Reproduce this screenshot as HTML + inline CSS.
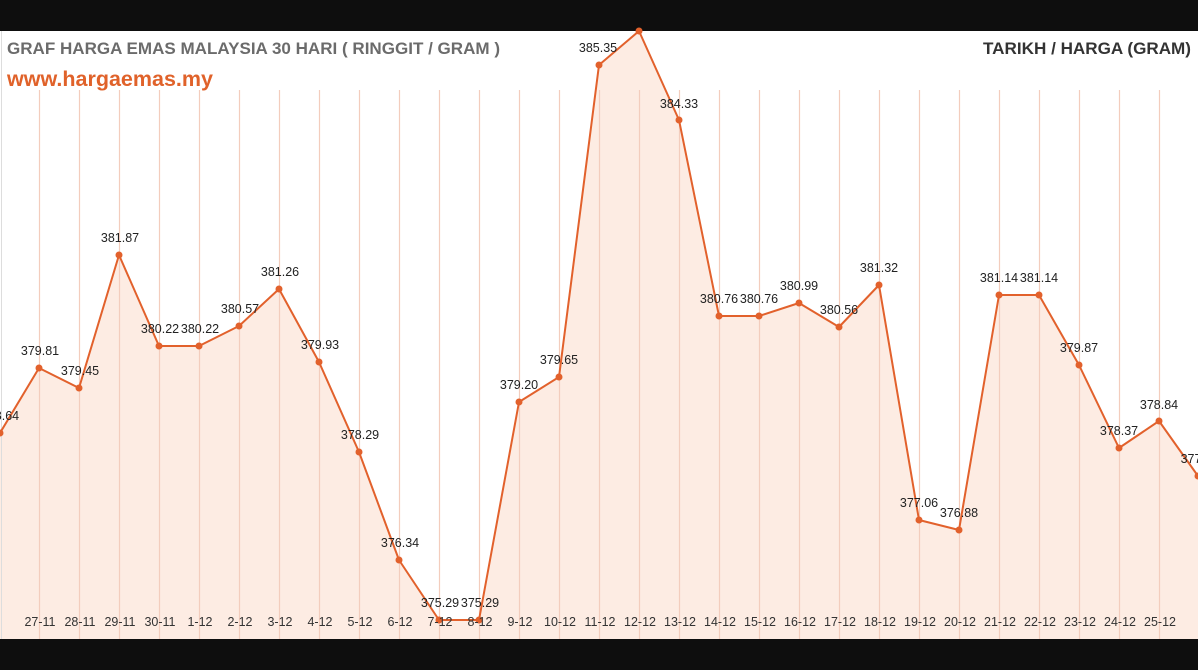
<!DOCTYPE html>
<html><head><meta charset="utf-8"><style>
html,body{margin:0;padding:0;background:#0e0e0e;}
svg{display:block;}
text{font-family:"Liberation Sans",sans-serif;}
</style></head><body>
<svg width="1198" height="670" viewBox="0 0 1198 670" xmlns="http://www.w3.org/2000/svg">
<rect x="0" y="0" width="1198" height="670" fill="#0e0e0e"/>
<rect x="0" y="31" width="1198" height="608" fill="#ffffff"/>
<polygon fill="#fdece3" points="0,639 0,433 39,368 79,388 119,255 159,346 199,346 239,326 279,289 319,362 359,452 399,560 439,620 479,620 519,402 559,377 599,65 639,31 679,120 719,316 759,316 799,303 839,327 879,285 919,520 959,530 999,295 1039,295 1079,365 1119,448 1159,421 1198,476 1198,639"/>
<g stroke="#f3cdbd" stroke-width="1.2">
<path d="M39.5 90V639M79.5 90V639M119.5 90V639M159.5 90V639M199.5 90V639M239.5 90V639M279.5 90V639M319.5 90V639M359.5 90V639M399.5 90V639M439.5 90V639M479.5 90V639M519.5 90V639M559.5 90V639M599.5 90V639M639.5 90V639M679.5 90V639M719.5 90V639M759.5 90V639M799.5 90V639M839.5 90V639M879.5 90V639M919.5 90V639M959.5 90V639M999.5 90V639M1039.5 90V639M1079.5 90V639M1119.5 90V639M1159.5 90V639"/>
</g>
<line x1="1.5" y1="31" x2="1.5" y2="639" stroke="#ddd" stroke-width="1"/>
<polyline fill="none" stroke="#e2612c" stroke-width="2" stroke-linejoin="round" points="0,433 39,368 79,388 119,255 159,346 199,346 239,326 279,289 319,362 359,452 399,560 439,620 479,620 519,402 559,377 599,65 639,31 679,120 719,316 759,316 799,303 839,327 879,285 919,520 959,530 999,295 1039,295 1079,365 1119,448 1159,421 1198,476"/>
<g fill="#e2612c">
<circle cx="0" cy="433" r="3.5"/><circle cx="39" cy="368" r="3.5"/><circle cx="79" cy="388" r="3.5"/><circle cx="119" cy="255" r="3.5"/><circle cx="159" cy="346" r="3.5"/><circle cx="199" cy="346" r="3.5"/><circle cx="239" cy="326" r="3.5"/><circle cx="279" cy="289" r="3.5"/><circle cx="319" cy="362" r="3.5"/><circle cx="359" cy="452" r="3.5"/><circle cx="399" cy="560" r="3.5"/><circle cx="439" cy="620" r="3.5"/><circle cx="479" cy="620" r="3.5"/><circle cx="519" cy="402" r="3.5"/><circle cx="559" cy="377" r="3.5"/><circle cx="599" cy="65" r="3.5"/><circle cx="639" cy="31" r="3.5"/><circle cx="679" cy="120" r="3.5"/><circle cx="719" cy="316" r="3.5"/><circle cx="759" cy="316" r="3.5"/><circle cx="799" cy="303" r="3.5"/><circle cx="839" cy="327" r="3.5"/><circle cx="879" cy="285" r="3.5"/><circle cx="919" cy="520" r="3.5"/><circle cx="959" cy="530" r="3.5"/><circle cx="999" cy="295" r="3.5"/><circle cx="1039" cy="295" r="3.5"/><circle cx="1079" cy="365" r="3.5"/><circle cx="1119" cy="448" r="3.5"/><circle cx="1159" cy="421" r="3.5"/><circle cx="1198" cy="476" r="3.5"/>
</g>
<g font-size="12.5" fill="#222" text-anchor="middle">
<text x="0" y="420">378.64</text><text x="40" y="355">379.81</text><text x="80" y="375">379.45</text><text x="120" y="242">381.87</text><text x="160" y="333">380.22</text><text x="200" y="333">380.22</text><text x="240" y="313">380.57</text><text x="280" y="276">381.26</text><text x="320" y="349">379.93</text><text x="360" y="439">378.29</text><text x="400" y="547">376.34</text><text x="440" y="607">375.29</text><text x="480" y="607">375.29</text><text x="519" y="389">379.20</text><text x="559" y="364">379.65</text><text x="598" y="52">385.35</text><text x="679" y="108">384.33</text><text x="719" y="303">380.76</text><text x="759" y="303">380.76</text><text x="799" y="290">380.99</text><text x="839" y="314">380.56</text><text x="879" y="272">381.32</text><text x="919" y="507">377.06</text><text x="959" y="517">376.88</text><text x="999" y="282">381.14</text><text x="1039" y="282">381.14</text><text x="1079" y="352">379.87</text><text x="1119" y="435">378.37</text><text x="1159" y="409">378.84</text><text x="1199" y="463">377.xx</text>
</g>
<g font-size="12.5" fill="#333" text-anchor="middle">
<text x="40" y="626">27-11</text><text x="80" y="626">28-11</text><text x="120" y="626">29-11</text><text x="160" y="626">30-11</text><text x="200" y="626">1-12</text><text x="240" y="626">2-12</text><text x="280" y="626">3-12</text><text x="320" y="626">4-12</text><text x="360" y="626">5-12</text><text x="400" y="626">6-12</text><text x="440" y="626">7-12</text><text x="480" y="626">8-12</text><text x="520" y="626">9-12</text><text x="560" y="626">10-12</text><text x="600" y="626">11-12</text><text x="640" y="626">12-12</text><text x="680" y="626">13-12</text><text x="720" y="626">14-12</text><text x="760" y="626">15-12</text><text x="800" y="626">16-12</text><text x="840" y="626">17-12</text><text x="880" y="626">18-12</text><text x="920" y="626">19-12</text><text x="960" y="626">20-12</text><text x="1000" y="626">21-12</text><text x="1040" y="626">22-12</text><text x="1080" y="626">23-12</text><text x="1120" y="626">24-12</text><text x="1160" y="626">25-12</text>
</g>
<text x="7" y="54" font-size="17" font-weight="bold" fill="#6b6b6b" textLength="493" lengthAdjust="spacingAndGlyphs">GRAF HARGA EMAS MALAYSIA 30 HARI ( RINGGIT / GRAM )</text>
<text x="7" y="86" font-size="21.5" font-weight="bold" fill="#e0622a" textLength="206" lengthAdjust="spacingAndGlyphs">www.hargaemas.my</text>
<text x="983" y="54" font-size="17" font-weight="bold" fill="#333" textLength="208" lengthAdjust="spacingAndGlyphs">TARIKH / HARGA (GRAM)</text>
</svg>
</body></html>
